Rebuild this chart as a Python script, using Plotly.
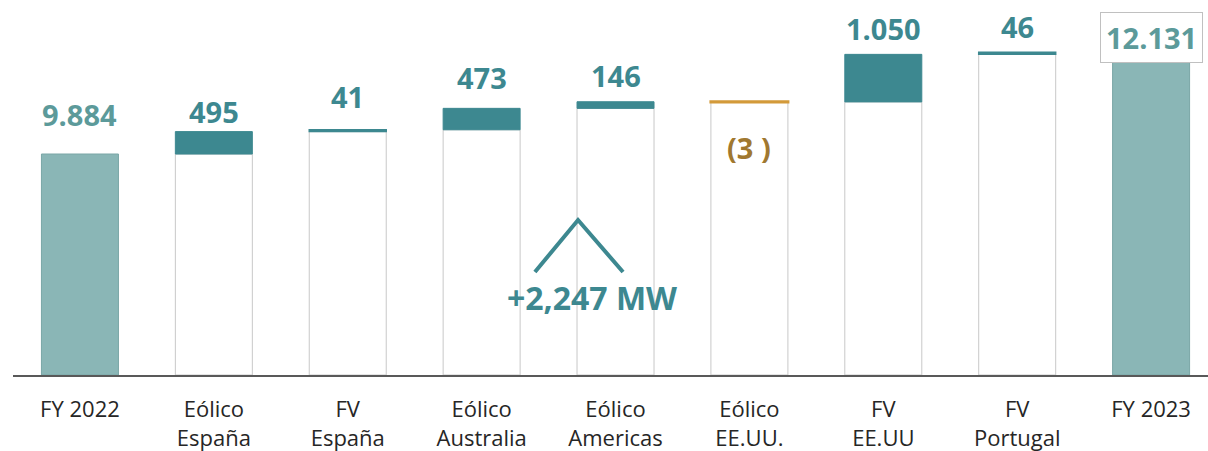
import plotly.graph_objects as go

categories = ["FY 2022", "Eólico<br>España", "FV<br>España", "Eólico<br>Australia",
              "Eólico<br>Americas", "Eólico<br>EE.UU.", "FV<br>EE.UU", "FV<br>Portugal", "FY 2023"]
start_total = 9884
deltas = [495, 41, 473, 146, -3, 1050, 46]
end_total = 12131
delta_labels = ["495", "41", "473", "146", "(3 )", "1.050", "46"]
total_labels = ["9.884", "12.131"]
summary_text = "+2,247 MW"

AXIS_MIN = 5000
FY_COLOR = "#8ab6b6"
UP_COLOR = "#3d8890"
DOWN_COLOR = "#d39a3a"
FY_TEXT = "#5c9a9a"
DOWN_TEXT = "#a07830"
FONT = "Open Sans"

# cumulative
cum = [start_total]
for d in deltas:
    cum.append(cum[-1] + d)

xs = list(range(len(categories)))
BW = 0.575

fig = go.Figure()

# totals
fig.add_trace(go.Bar(x=[xs[0], xs[-1]], y=[start_total - AXIS_MIN, end_total - AXIS_MIN], base=AXIS_MIN,
                     width=BW, marker=dict(color=FY_COLOR, line=dict(color="#7aa6a6", width=1)),
                     hoverinfo="skip"))

# base bars (white with gray border)
base_tops = [min(cum[i], cum[i + 1]) for i in range(len(deltas))]
fig.add_trace(go.Bar(x=xs[1:-1], y=[t - AXIS_MIN for t in base_tops], base=AXIS_MIN, width=BW,
                     marker=dict(color="white", line=dict(color="#c8c8c8", width=1)), hoverinfo="skip"))

# delta bars
for i, d in enumerate(deltas):
    col = UP_COLOR if d >= 0 else DOWN_COLOR
    lw = 1 if abs(d) > 100 else (1.5 if d >= 0 else 3)
    fig.add_trace(go.Bar(x=[xs[i + 1]], y=[abs(d)], base=min(cum[i], cum[i + 1]), width=BW,
                         marker=dict(color=col, line=dict(color=col, width=lw)), hoverinfo="skip"))

annotations = []
# label pixel offsets from bar top
tot_off = [40, 15]
delta_off = [20, 33, 31, 26, -46, 26, 26]

annotations.append(dict(x=xs[0], y=start_total, text=total_labels[0], showarrow=False, yanchor="middle",
                        yshift=tot_off[0], font=dict(family=FONT, size=29, color=FY_TEXT, weight="bold")))
annotations.append(dict(x=xs[-1], y=cum[-1], text=total_labels[1], showarrow=False, yanchor="middle",
                        yshift=tot_off[1], bgcolor="white", bordercolor="#c0c0c0", borderwidth=1, borderpad=5,
                        font=dict(family=FONT, size=29, color=FY_TEXT, weight="bold")))
for i, d in enumerate(deltas):
    top = max(cum[i], cum[i + 1])
    annotations.append(dict(x=xs[i + 1], y=top, text=delta_labels[i], showarrow=False, yanchor="middle",
                            yshift=delta_off[i],
                            font=dict(family=FONT, size=29, color=UP_COLOR if d >= 0 else DOWN_TEXT,
                                      weight="bold")))

annotations.append(dict(x=3.824, y=6702, text=summary_text, showarrow=False, yanchor="middle",
                        font=dict(family=FONT, size=32, color=UP_COLOR, weight="bold")))

# chevron
fig.add_trace(go.Scatter(x=[3.398, 3.72, 4.056], y=[7276, 8425, 7276], mode="lines",
                         line=dict(color=UP_COLOR, width=4), hoverinfo="skip"))

fig.update_layout(
    width=1208, height=451,
    margin=dict(l=13, r=0, t=0, b=76),
    plot_bgcolor="white", paper_bgcolor="white",
    showlegend=False, barmode="overlay",
    annotations=annotations,
    xaxis=dict(range=[-0.5, 8.425], tickvals=xs, ticktext=categories, showgrid=False, zeroline=False,
               showline=True, linecolor="#595959", linewidth=2, ticks="", ticklabelstandoff=14,
               tickfont=dict(family=FONT, size=22, color="#262626")),
    yaxis=dict(range=[AXIS_MIN, AXIS_MIN + 375 * 22.1], visible=False, showgrid=False),
)

fig.write_html("out.html", config={"displayModeBar": False},
               post_script="document.body.style.margin='0';document.body.style.overflow='hidden';")
